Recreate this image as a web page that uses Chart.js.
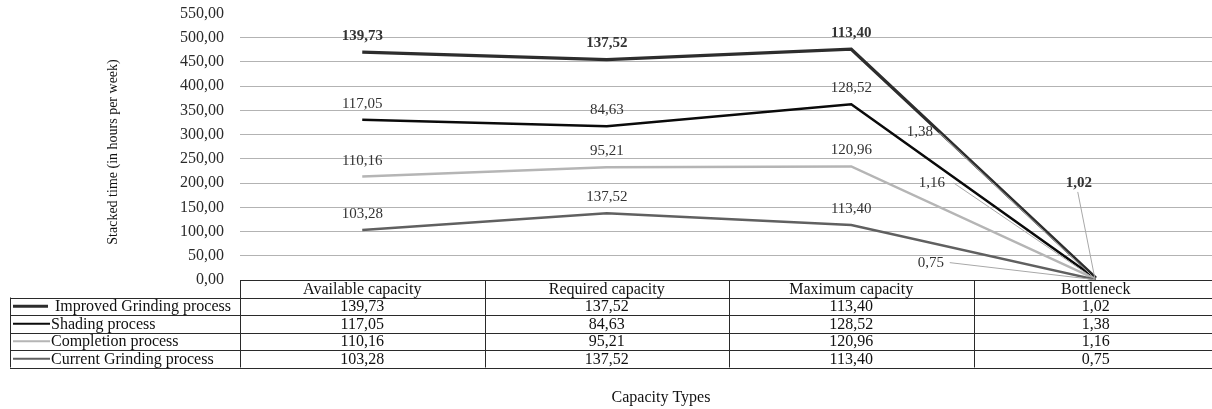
<!DOCTYPE html>
<html>
<head>
<meta charset="utf-8">
<script src="https://cdn.jsdelivr.net/npm/chart.js@4.4.0/dist/chart.umd.min.js"></script>
<style>
    html, body { margin: 0; padding: 0; background: #fff; overflow: hidden; }
    #wrap { width: 1212px; height: 409px; overflow: hidden; }
</style>
</head>
<body>
<!-- the plot runs a few pixels past the right edge, as in the source figure -->
<div id="wrap"><canvas id="capacityChart" width="1218" height="409"></canvas></div>
<script>
// values
const capacityTypes = ['Available capacity', 'Required capacity', 'Maximum capacity', 'Bottleneck'];
const currentGrinding = [103.28, 137.52, 113.40, 0.75];
const completion = [110.16, 95.21, 120.96, 1.16];
const shading = [117.05, 84.63, 128.52, 1.38];
const improvedGrinding = [139.73, 137.52, 113.40, 1.02];
const seriesNames = ['Current Grinding process', 'Completion process', 'Shading process', 'Improved Grinding process'];
const yMin = 0;
const yMax = 550;
const yStep = 50;

const serif = '"Liberation Serif", "DejaVu Serif", serif';
const lineColors = ['#606060', '#b5b5b5', '#0a0a0a', '#2d2d2d'];
const lineWidths = [2.5, 2.5, 2.5, 3.2];
// where the crowded Bottleneck labels sit, relative to their point
const bottleneckLabelOffsets = [
    { dx: -165, dy: -17, lineFrom: [-146, -17] },
    { dx: -164, dy: -96, lineFrom: [-142, -96] },
    { dx: -176, dy: -146, lineFrom: [-157, -146] },
    { dx: -17, dy: -95, lineFrom: [-18, -86] },
];

function fmt(v) {
    return v.toFixed(2).replace('.', ',');
}

const allSeries = [currentGrinding, completion, shading, improvedGrinding];

const datasets = allSeries.map(function (data, i) {
    return {
        label: seriesNames[i],
        data: data,
        borderColor: lineColors[i],
        borderWidth: lineWidths[i],
        pointRadius: 0,
        tension: 0,
        fill: false,
    };
});

const labelPlugin = {
    id: 'pointLabels',
    afterDatasetsDraw(chart) {
        const ctx = chart.ctx;
        ctx.save();
        ctx.textAlign = 'center';
        ctx.textBaseline = 'middle';
        chart.data.datasets.forEach(function (ds, i) {
            const meta = chart.getDatasetMeta(i);
            const bold = i === 3;
            ctx.font = (bold ? 'bold ' : '') + '15px ' + serif;
            meta.data.forEach(function (pt, j) {
                const text = fmt(ds.data[j]);
                if (j < 3) {
                    ctx.fillStyle = '#333';
                    ctx.fillText(text, pt.x, pt.y - 16);
                } else {
                    const off = bottleneckLabelOffsets[i];
                    ctx.strokeStyle = '#a8a8a8';
                    ctx.lineWidth = 1;
                    ctx.beginPath();
                    ctx.moveTo(pt.x + off.lineFrom[0], pt.y + off.lineFrom[1]);
                    ctx.lineTo(pt.x - 1, pt.y);
                    ctx.stroke();
                    ctx.fillStyle = '#333';
                    ctx.fillText(text, pt.x + off.dx, pt.y + off.dy);
                }
            });
        });
        ctx.restore();
    }
};

const tablePlugin = {
    id: 'dataTable',
    afterDraw(chart) {
        const ctx = chart.ctx;
        const area = chart.chartArea;
        const n = capacityTypes.length;
        const colW = (area.right - area.left) / n;
        const top = chart.scales.y.getPixelForValue(0);
        const rowH = 17.5;
        const legendLeft = 10;
        const rows = allSeries.length;
        const bottom = top + rowH * (rows + 1);

        ctx.save();
        ctx.strokeStyle = '#2a2a2a';
        ctx.lineWidth = 1;
        ctx.beginPath();
        // header row border
        ctx.moveTo(area.left, top + 0.5);
        ctx.lineTo(area.right, top + 0.5);
        for (let r = 1; r <= rows + 1; r++) {
            const y = Math.round(top + r * rowH) + 0.5;
            ctx.moveTo(legendLeft, y);
            ctx.lineTo(area.right, y);
        }
        for (let c = 0; c <= n; c++) {
            const x = Math.round(area.left + c * colW) + 0.5;
            ctx.moveTo(x, top);
            ctx.lineTo(x, bottom);
        }
        ctx.moveTo(legendLeft + 0.5, top + rowH);
        ctx.lineTo(legendLeft + 0.5, bottom);
        ctx.stroke();

        ctx.fillStyle = '#111';
        ctx.font = '16px ' + serif;
        ctx.textAlign = 'center';
        ctx.textBaseline = 'middle';
        capacityTypes.forEach(function (cat, c) {
            ctx.fillText(cat, area.left + (c + 0.5) * colW, top + rowH / 2 + 1);
        });

        // table rows are listed top series first
        for (let r = 0; r < rows; r++) {
            const s = rows - 1 - r;
            const yMid = top + (r + 1.5) * rowH + 1;
            ctx.textAlign = 'center';
            ctx.fillStyle = '#111';
            allSeries[s].forEach(function (v, c) {
                ctx.fillText(fmt(v), area.left + (c + 0.5) * colW, yMid);
            });
            ctx.strokeStyle = lineColors[s];
            ctx.lineWidth = s === 3 ? 3 : 2;
            ctx.beginPath();
            ctx.moveTo(13, yMid - 1);
            ctx.lineTo(s === 3 ? 48 : 50, yMid - 1);
            ctx.stroke();
            ctx.textAlign = 'left';
            ctx.fillText(seriesNames[s], s === 3 ? 55 : 51, yMid);
        }

        // axis titles
        ctx.fillStyle = '#111';
        ctx.textAlign = 'center';
        ctx.font = '16px ' + serif;
        ctx.fillText('Capacity Types', 661, 398);
        ctx.font = '14px ' + serif;
        ctx.translate(113, 152);
        ctx.rotate(-Math.PI / 2);
        ctx.fillText('Stacked time (in hours per week)', 0, 0);
        ctx.restore();
    }
};

new Chart(document.getElementById('capacityChart'), {
    type: 'line',
    data: {
        labels: capacityTypes,
        datasets: datasets
    },
    options: {
        responsive: false,
        animation: false,
        devicePixelRatio: 1,
        layout: {
            padding: { left: 0, right: 0, top: 13.5, bottom: 129 }
        },
        plugins: {
            legend: { display: false },
            tooltip: { enabled: false }
        },
        scales: {
            x: {
                display: false,
                offset: true
            },
            y: {
                stacked: true,
                min: yMin,
                max: yMax,
                afterFit: function (scale) { scale.width = 240; },
                border: { display: false },
                grid: {
                    drawTicks: true,
                    tickLength: 16,
                    tickColor: 'rgba(0,0,0,0)',
                    color: function (c) {
                        if (c.tick.value === yMin || c.tick.value === yMax) return 'rgba(0,0,0,0)';
                        return '#b3b3b3';
                    }
                },
                ticks: {
                    stepSize: yStep,
                    padding: 0,
                    color: '#2a2a2a',
                    font: { family: serif, size: 16 },
                    callback: function (v) { return fmt(v); }
                }
            }
        }
    },
    plugins: [labelPlugin, tablePlugin]
});
</script>
</body>
</html>
